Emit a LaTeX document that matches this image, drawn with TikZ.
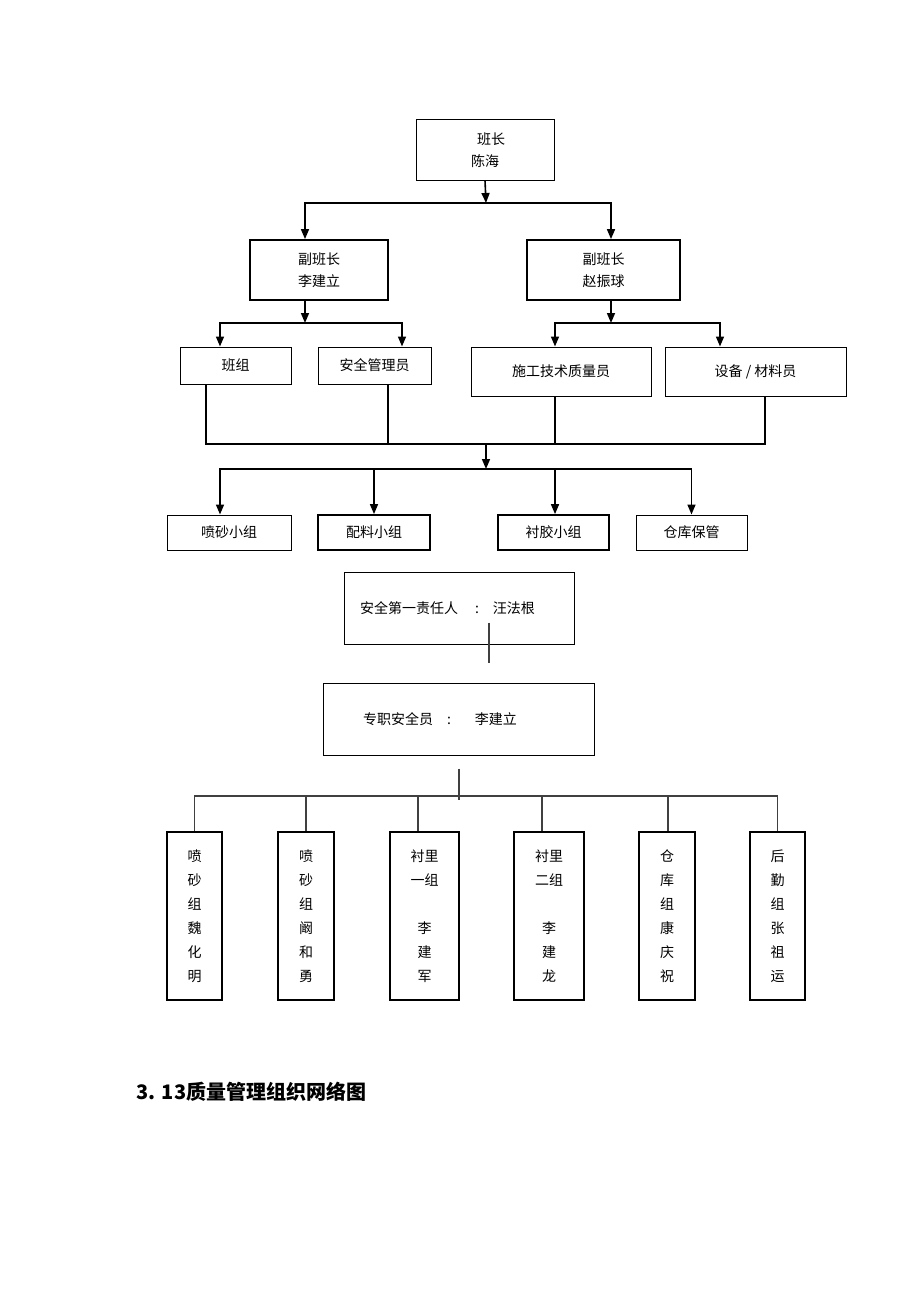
\documentclass[tikz,border=0pt]{standalone}
\usepackage{fontspec}
\newfontfamily\cjk{Noto Sans CJK SC}
\usetikzlibrary{arrows.meta,positioning}

\begin{document}
\begin{tikzpicture}[x=1pt, y=-1pt,
  box/.style={draw, line width=1pt, inner sep=0pt, align=center,
    font=\cjk\fontsize{14}{22}\selectfont},
  thickbox/.style={box, line width=1.8pt},
  tallbox/.style={box, line width=1.6pt, minimum height=168pt,
    font=\cjk\fontsize{14}{24}\selectfont},
  conn/.style={line width=1.6pt},
  arr/.style={conn, -{Triangle[width=8pt,length=10pt]}},
  thinconn/.style={line width=1.2pt, black!75}]
  \useasboundingbox (0,0) rectangle (920,1303);

  % upper chart
  \node(bz)[box, minimum width=138pt, minimum height=60pt] at (485,150) {\hspace{12pt}班长\\陈海};
  \node(fbz1)[thickbox, minimum width=138pt, minimum height=60pt] at (319,270) {副班长\\李建立};
  \node(fbz2)[thickbox, minimum width=153pt, minimum height=60pt] at (603.5,270) {副班长\\赵振球};
  \node(bzu)[box, minimum width=111pt, minimum height=37pt] at (235.5,365.5) {班组};
  \node(aqg)[box, minimum width=113pt, minimum height=37pt] at (374.5,365.5) {安全管理员};
  \node(sg)[box, minimum width=180pt, minimum height=49pt] at (561,371.5) {施工技术质量员};
  \node(sb)[box, minimum width=181pt, minimum height=49pt] at (755.5,371.5) {设备 / 材料员};
  \node(ps)[box, minimum width=124pt, minimum height=35pt] at (229,532.5) {喷砂小组};
  \node(pl)[thickbox, minimum width=112pt, minimum height=35pt] at (374,532.5) {配料小组};
  \node(cj)[thickbox, minimum width=111pt, minimum height=35pt] at (553.5,532.5) {衬胶小组};
  \node(ck)[box, minimum width=111pt, minimum height=35pt] at (691.5,532.5) {仓库保管};

  \coordinate(j1) at (486,203);
  \coordinate(j2) at (305,323);
  \coordinate(j3) at (611,323);
  \coordinate(bus) at (486,444);
  \coordinate(j4) at (486,469);

  \draw[arr] (bz.south) -- (j1);
  \draw[arr] (j1) -| ([xshift=-14pt]fbz1.north);
  \draw[arr] (j1) -| ([xshift=7.5pt]fbz2.north);
  \draw[arr] ([xshift=-14pt]fbz1.south) -- (j2);
  \draw[arr] ([xshift=7.5pt]fbz2.south) -- (j3);
  \draw[arr] (j2) -| ([xshift=-15.5pt]bzu.north);
  \draw[arr] (j2) -| ([xshift=27.5pt]aqg.north);
  \draw[arr] (j3) -| ([xshift=-6pt]sg.north);
  \draw[arr] (j3) -| ([xshift=-35.5pt]sb.north);
  \draw[conn] ([xshift=-29.5pt]bzu.south) |- (bus);
  \draw[conn] ([xshift=13.5pt]aqg.south) |- (bus);
  \draw[conn] ([xshift=-6pt]sg.south) |- (bus);
  \draw[conn] ([xshift=9.5pt]sb.south) |- (bus);
  \draw[arr] (bus) -- (j4);
  \draw[arr] (j4) -| ([xshift=-9pt]ps.north);
  \draw[arr] (j4) -| (pl.north);
  \draw[arr] (j4) -| ([xshift=1.5pt]cj.north);
  \draw[arr] (j4) -| (ck.north);

  % safety chart
  \node(aq1)[box, minimum height=72pt, text width=198pt, inner xsep=16pt, align=left]
    at (459,608) {安全第一责任人\hspace{17pt}:\quad 汪法根};
  \node(zz)[box, minimum height=72pt, text width=191pt, inner xsep=40pt, align=left]
    at (458.5,719) {专职安全员\quad :\hspace{24pt}李建立};
  \node(m1)[tallbox, minimum width=55pt] at (194.5,916) {喷\\砂\\组\\魏\\化\\明};
  \node(m2)[tallbox, minimum width=56pt] at (306,916) {喷\\砂\\组\\阚\\和\\勇};
  \node(m3)[tallbox, minimum width=69pt] at (424.5,916) {衬里\\一组\\\mbox{}\\李\\建\\军};
  \node(m4)[tallbox, minimum width=70pt] at (549,916) {衬里\\二组\\\mbox{}\\李\\建\\龙};
  \node(m5)[tallbox, minimum width=56pt] at (667,916) {仓\\库\\组\\康\\庆\\祝};
  \node(m6)[tallbox, minimum width=55pt] at (777.5,916) {后\\勤\\组\\张\\祖\\运};

  \coordinate(j5) at (459,796);
  \draw[thinconn] ([xshift=30pt, yshift=22pt]aq1.south) -- ++(0,40);
  \draw[thinconn] ([xshift=0.5pt, yshift=-13pt]zz.south) -- ([yshift=-4pt]j5);
  \draw[thinconn] (j5) -| (m1.north);
  \draw[thinconn] (j5) -| (m2.north);
  \draw[thinconn] (j5) -| ([xshift=-6.5pt]m3.north);
  \draw[thinconn] (j5) -| ([xshift=-7pt]m4.north);
  \draw[thinconn] (j5) -| ([xshift=1pt]m5.north);
  \draw[thinconn] (j5) -| (m6.north);

  \node(title)[anchor=west, font=\cjk\bfseries\fontsize{20}{24}\selectfont] at (133,1092) {3. 13质量管理组织网络图};
\end{tikzpicture}
\end{document}
